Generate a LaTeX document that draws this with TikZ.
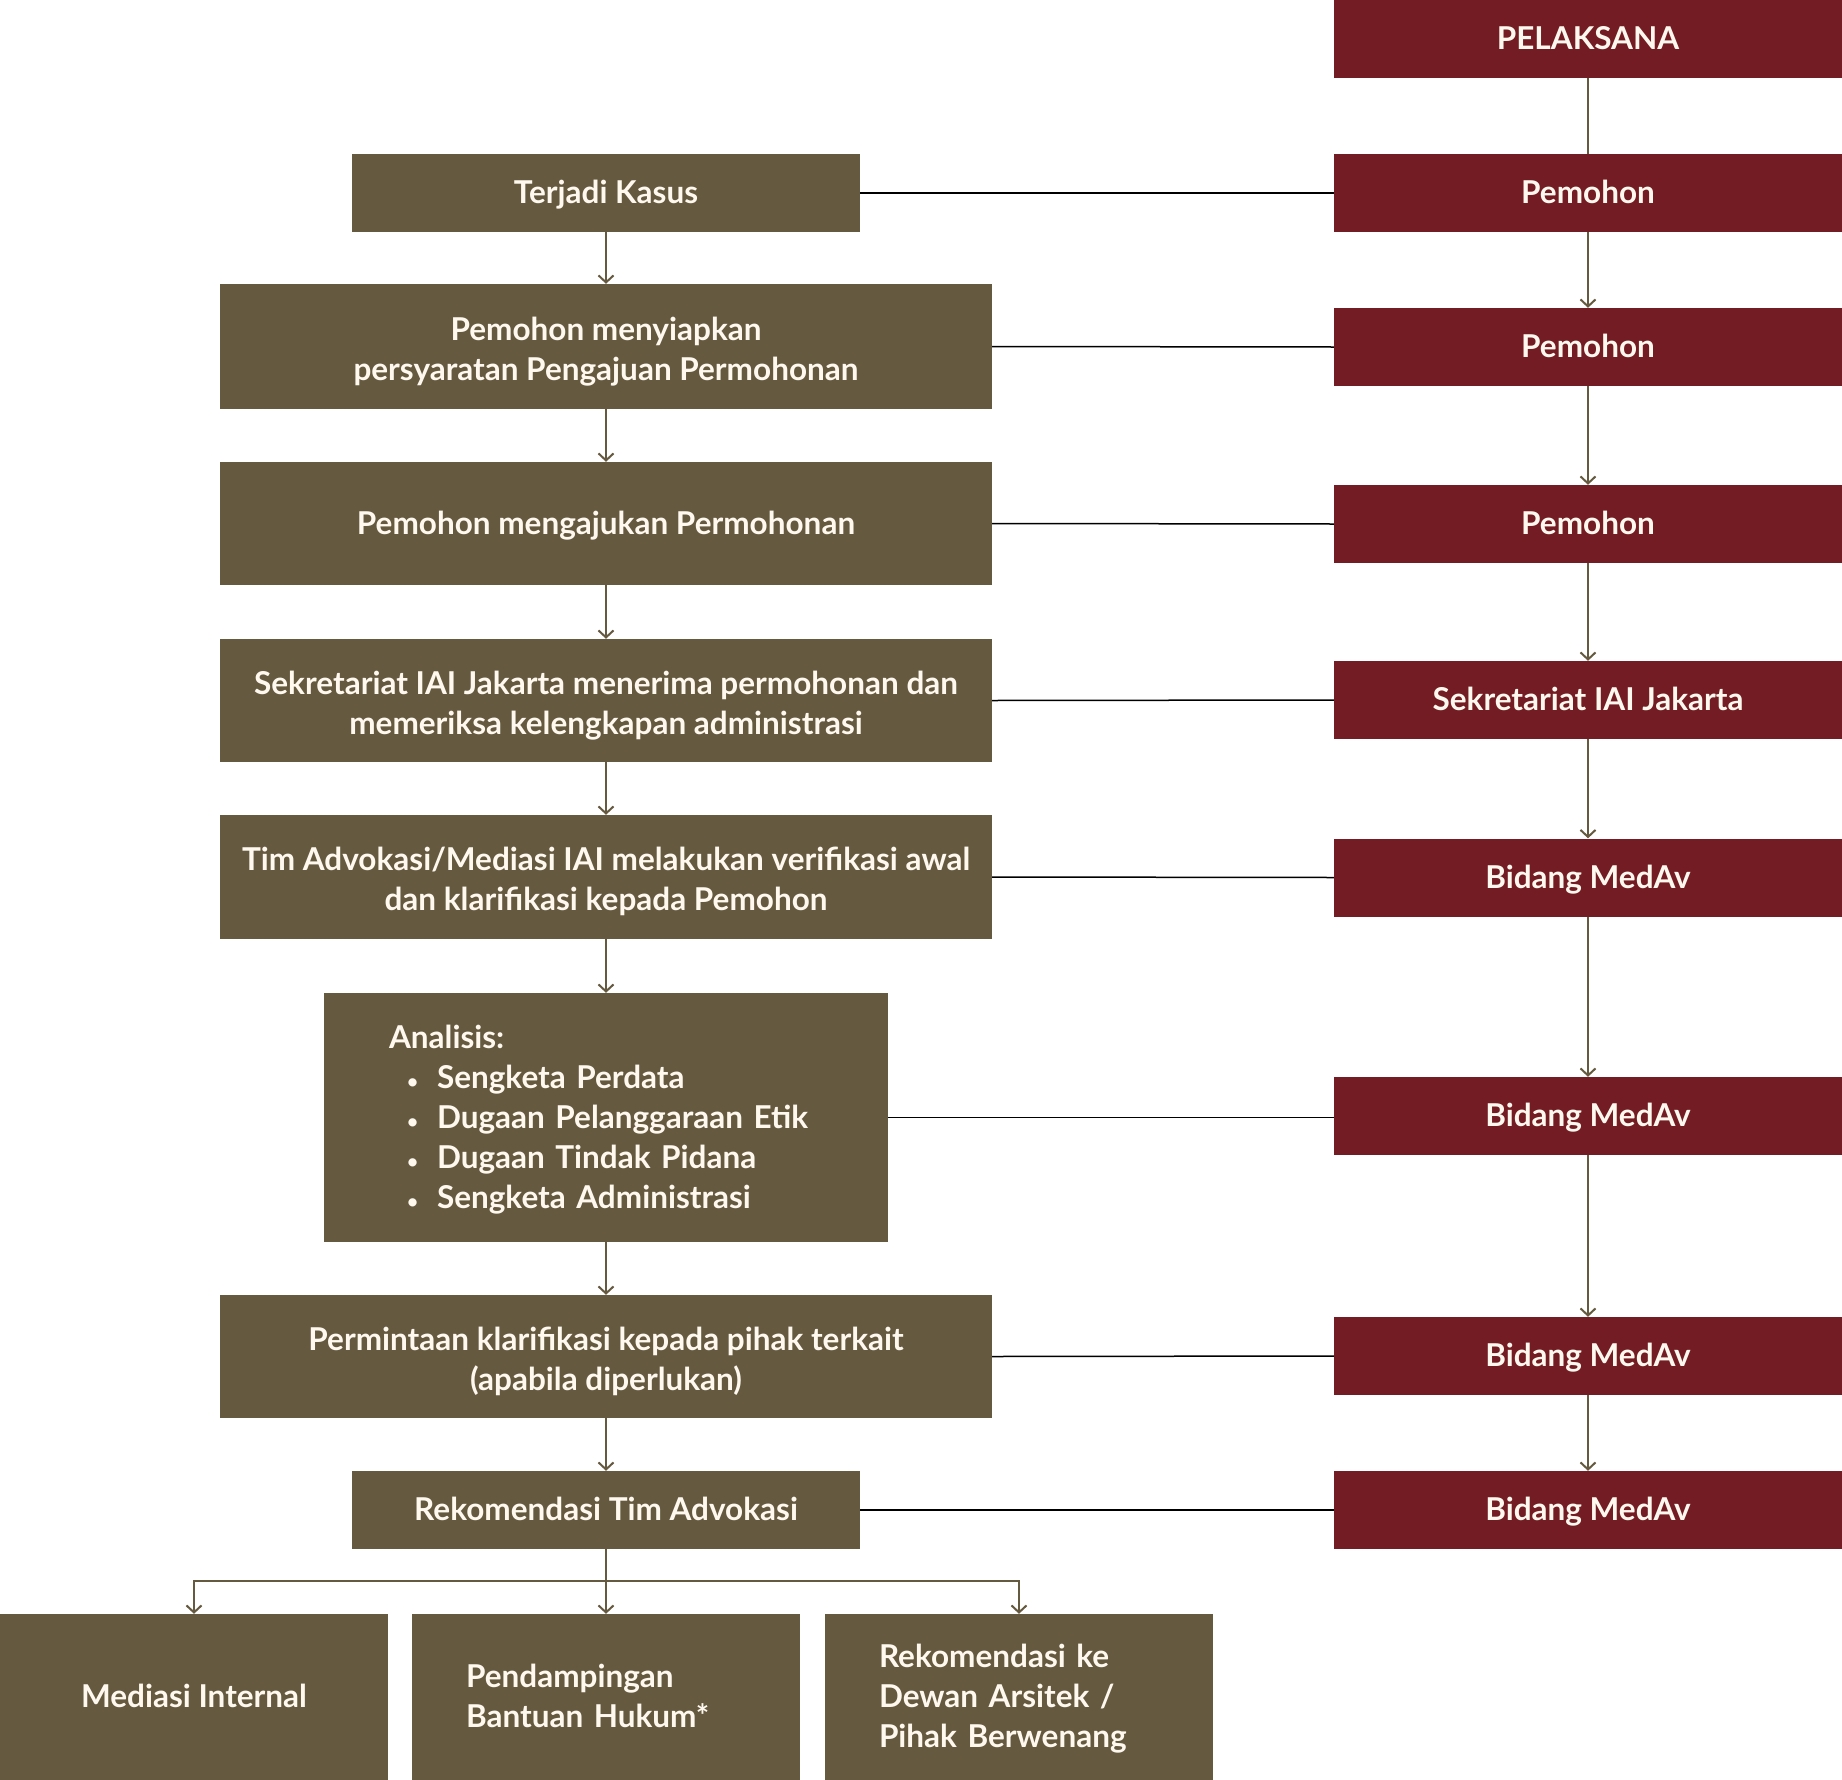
\documentclass[tikz,border=0pt]{standalone}
\usepackage{fontspec}
\setmainfont{Lato}[UprightFont=* Bold, BoldFont=* Black]
\usetikzlibrary{arrows.meta}
\definecolor{boxol}{HTML}{655A40}
\definecolor{boxred}{HTML}{741C23}
\definecolor{txtc}{HTML}{FFF8EE}
\newcommand{\itembul}{\hspace*{18pt}\makebox[30pt][l]{\fontsize{19}{19}\selectfont •}}
\newcommand{\lowerstrut}{\rule{0pt}{38.5pt}}
\tikzset{
  basebox/.style={rectangle, inner sep=0pt, text=txtc, align=center, font=\fontsize{31.5}{40}\selectfont,
    execute at begin node={\rule{0pt}{32pt}}, execute at end node={\rule[-11pt]{0pt}{0pt}}},
  lbox/.style={basebox, fill=boxol},
  rbox/.style={basebox, fill=boxred, minimum width=508pt, minimum height=78pt},
  arr/.style={draw=boxol, line width=2pt, -{Straight Barb[length=7pt,width=15pt,line width=2pt]}},
  vl/.style={draw=boxol, line width=2pt},
  hl/.style={draw=black, line width=1.5pt},
}
\begin{document}
\begin{tikzpicture}[x=1pt,y=-1pt]
\fill[white] (0,0) rectangle (1842,1780);
\useasboundingbox (0,0) rectangle (1842,1780);

% left column
\node[lbox, minimum width=508pt, minimum height=78pt] (t1) at (606,193) {Terjadi Kasus};
\node[lbox, minimum width=772pt, minimum height=125pt] (t2) at (606,346.5) {\lowerstrut Pemohon menyiapkan\\persyaratan Pengajuan Permohonan};
\node[lbox, minimum width=772pt, minimum height=123pt] (t3) at (606,523.5) {Pemohon mengajukan Permohonan};
\node[lbox, minimum width=772pt, minimum height=123pt] (t4) at (606,700.5) {\lowerstrut Sekretariat IAI Jakarta menerima permohonan dan\\memeriksa kelengkapan administrasi};
\node[lbox, minimum width=772pt, minimum height=124pt] (t5) at (606,877) {\lowerstrut Tim Advokasi/Mediasi IAI melakukan verifikasi awal\\dan klarifikasi kepada Pemohon};
\node[lbox, minimum width=564pt, minimum height=249pt, align=left, text width=434pt] (t6) at (606,1117.5)
  {Analisis:\\
   \itembul Sengketa Perdata\\
   \itembul Dugaan Pelanggaraan Etik\\
   \itembul Dugaan Tindak Pidana\\
   \itembul Sengketa Administrasi};
\node[lbox, minimum width=772pt, minimum height=123pt] (t7) at (606,1356.5) {\lowerstrut Permintaan klarifikasi kepada pihak terkait\\(apabila diperlukan)};
\node[lbox, minimum width=508pt, minimum height=78pt] (t8) at (606,1510) {Rekomendasi Tim Advokasi};

% bottom row
\node[lbox, minimum width=388pt, minimum height=166pt] (b1) at (194,1697) {Mediasi Internal};
\node[lbox, minimum width=388pt, minimum height=166pt, align=left, text width=280pt] (b2) at (606,1697) {Pendampingan\\Bantuan Hukum*};
\node[lbox, minimum width=388pt, minimum height=166pt, align=left, text width=280pt] (b3) at (1019,1697) {Rekomendasi ke\\Dewan Arsitek /\\Pihak Berwenang};

% right column
\node[rbox] (p0) at (1588,39) {PELAKSANA};
\node[rbox] (p1) at (1588,193) {Pemohon};
\node[rbox] (p2) at (1588,347) {Pemohon};
\node[rbox] (p3) at (1588,524) {Pemohon};
\node[rbox] (p4) at (1588,700) {Sekretariat IAI Jakarta};
\node[rbox] (p5) at (1588,877.5) {Bidang MedAv};
\node[rbox] (p6) at (1588,1116) {Bidang MedAv};
\node[rbox] (p7) at (1588,1356) {Bidang MedAv};
\node[rbox] (p8) at (1588,1510) {Bidang MedAv};

% left arrows
\draw[arr] (t1.south) -- (t2.north);
\draw[arr] (t2.south) -- (t3.north);
\draw[arr] (t3.south) -- (t4.north);
\draw[arr] (t4.south) -- (t5.north);
\draw[arr] (t5.south) -- (t6.north);
\draw[arr] (t6.south) -- (t7.north);
\draw[arr] (t7.south) -- (t8.north);

% right arrows
\draw[vl] (p0.south) -- (p1.north);
\draw[arr] (p1.south) -- (p2.north);
\draw[arr] (p2.south) -- (p3.north);
\draw[arr] (p3.south) -- (p4.north);
\draw[arr] (p4.south) -- (p5.north);
\draw[arr] (p5.south) -- (p6.north);
\draw[arr] (p6.south) -- (p7.north);
\draw[arr] (p7.south) -- (p8.north);

% horizontal links
\draw[hl] (t1.east) -- (p1.west);
\draw[hl] (t2.east) -- (p2.west);
\draw[hl] (t3.east) -- (p3.west);
\draw[hl] (t4.east) -- (p4.west);
\draw[hl] (t5.east) -- (p5.west);
\draw[hl] (t6.east) -- (t6.east -| p6.west);
\draw[hl] (t7.east) -- (p7.west);
\draw[hl] (t8.east) -- (p8.west);

% branch
\coordinate (split) at (606,1581);
\draw[vl] (t8.south) -- (split);
\draw[arr] (split) -| (b1.north);
\draw[arr] (split) -- (b2.north);
\draw[arr] (split) -| (b3.north);
\end{tikzpicture}
\end{document}
